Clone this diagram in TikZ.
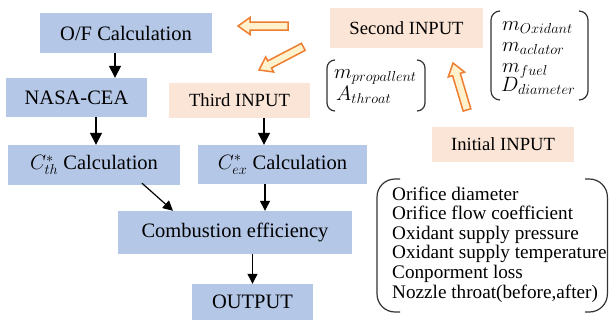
\documentclass[tikz,border=0pt]{standalone}
\usepackage{fontspec}
\setmainfont{Liberation Serif}
\usetikzlibrary{arrows.meta}
\definecolor{boxblue}{HTML}{B4C7E7}
\definecolor{peach}{HTML}{FBE5D6}
\definecolor{arrorange}{HTML}{ED7D31}
\definecolor{cream}{HTML}{FFF2CC}
\newcommand\hollowarrow[3]{%
  \draw[harrow, shift={(#1)}, rotate=#2] (0,0) -- (-12,8.5) -- (-12,4) -- (-#3,4) -- (-#3,-4) -- (-12,-4) -- (-12,-8.5) -- cycle;}
\begin{document}
\begin{tikzpicture}[x=1pt,y=-1pt,
  bluebox/.style={fill=boxblue, inner sep=0pt, font=\rmfamily\fontsize{20.5}{24}\selectfont},
  peachbox/.style={fill=peach, inner sep=0pt, font=\rmfamily\fontsize{18.6}{22}\selectfont},
  mtext/.style={inner sep=0pt, anchor=base west, font=\fontsize{20}{24}\selectfont},
  ltext/.style={inner sep=0pt, anchor=base west, font=\rmfamily\fontsize{19.2}{22}\selectfont},
  bigarr/.style={line width=1.4pt, -{Triangle[length=12pt,width=12pt]}},
  smallarr/.style={line width=1.2pt, -{Triangle[length=10pt,width=10pt]}},
  harrow/.style={draw=arrorange, fill=cream, line width=1.5pt, line join=miter},
  brk/.style={draw=black!80, line width=1.2pt, rounded corners=#1},
  brk/.default=9pt]
\useasboundingbox (0,0) rectangle (609,322);

% blue boxes
\node[bluebox, minimum width=172pt, minimum height=40pt] (of) at (126,33) {O/F Calculation};
\node[bluebox, minimum width=141pt, minimum height=39pt] (nasa) at (76.5,97.5) {NASA-CEA};
\node[bluebox, minimum width=172pt, minimum height=40pt] (cth) at (94,165) {$C^*_{th}$ Calculation};
\node[bluebox, minimum width=169pt, minimum height=39pt] (cex) at (282.5,164.5) {$C^*_{ex}$ Calculation};
\node[bluebox, minimum width=234pt, minimum height=43pt] (comb) at (235,232.5) {Combustion efficiency};
\node[bluebox, minimum width=121pt, minimum height=36pt] (out) at (252.5,302) {OUTPUT};

% peach boxes
\node[peachbox, minimum width=141pt, minimum height=35pt] (third) at (239.5,100.5) {Third INPUT};
\node[peachbox, minimum width=153pt, minimum height=40pt] (second) at (406.5,28) {Second INPUT};
\node[peachbox, minimum width=142pt, minimum height=35pt] (initial) at (503,144.5) {Initial INPUT};

% black arrows
\draw[bigarr] ([xshift=-11pt]of.south) -- ([xshift=-11pt]of.south |- nasa.north);
\draw[bigarr] ([xshift=19.5pt]nasa.south) -- ([xshift=19.5pt]nasa.south |- cth.north);
\draw[bigarr] ([xshift=24.5pt]third.south) -- ([xshift=24.5pt]third.south |- cex.north);
\draw[smallarr] ([xshift=48pt,yshift=2pt]cth.south) -- ([xshift=-62pt]comb.north);
\draw[smallarr] ([xshift=-17.5pt]cex.south) -- ([xshift=-17.5pt]cex.south |- comb.north);
\draw[smallarr] (comb.south -| out.north) -- (out.north);

% hollow orange arrows
\hollowarrow{238,26}{180}{50}
\hollowarrow{259,70}{207.6}{50}
\hollowarrow{453,63}{106.6}{49}

% right matrix
\node[mtext] (mox) at (502,30) {$m_{Oxidant}$};
\node[mtext] (mac) at (502,51) {$m_{aclator}$};
\node[mtext] (mfu) at (502,72) {$m_{fuel}$};
\node[mtext] (dd) at (501,91) {$D_{diameter}$};
\draw[brk] (500,11) -- (491,11) -- (491,100) -- (500,100);
\draw[brk] (579,11) -- (588,11) -- (588,100) -- (579,100);

% left matrix
\node[mtext] (mp) at (334,78) {$m_{propallent}$};
\node[mtext] (at) at (336,100) {$A_{throat}$};
\draw[brk=8pt] (335,60) -- (327,60) -- (327,111) -- (335,111);
\draw[brk=8pt] (417,60) -- (425,60) -- (425,111) -- (417,111);

% list
\node[ltext] (l1) at (392,200) {Orifice diameter};
\node[ltext] (l2) at (392,219.6) {Orifice flow coefficient};
\node[ltext] (l3) at (392,239.2) {Oxidant supply pressure};
\node[ltext] (l4) at (392,258.8) {Oxidant supply temperature};
\node[ltext] (l5) at (392,278.4) {Conporment loss};
\node[ltext] (l6) at (392,298) {Nozzle throat(before,after)};
\draw[brk=18pt] (400,179) -- (377,179) -- (377,312) -- (400,312);
\draw[brk=18pt] (585,179) -- (607.4,179) -- (607.4,312) -- (585,312);
\end{tikzpicture}
\end{document}
